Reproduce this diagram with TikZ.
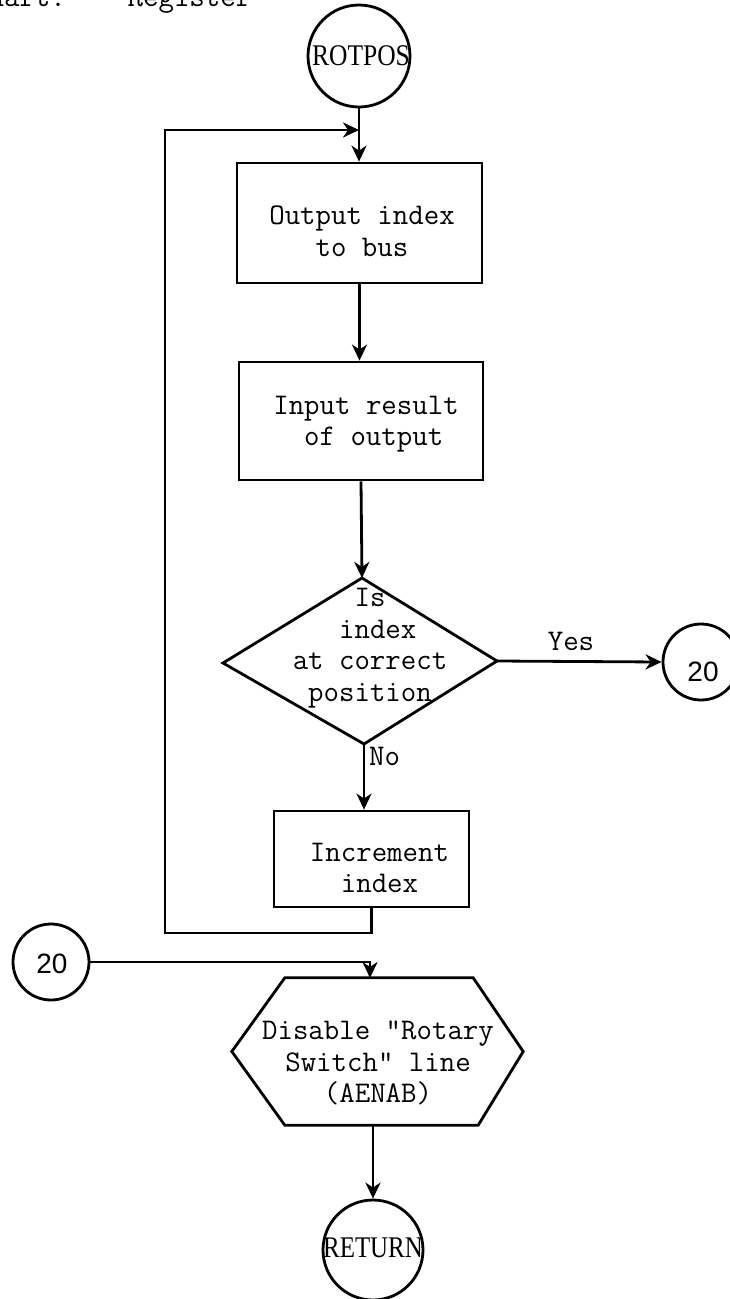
\documentclass[tikz,border=0pt]{standalone}
\usepackage{fontspec}
\newfontfamily\termfont{Liberation Serif}
\newfontfamily\numfont{Liberation Sans}
\usetikzlibrary{arrows.meta}

\tikzset{
  flow/.style={line width=2.8pt},
  arr/.style={flow,-{Stealth[length=16pt,width=15pt,inset=5pt]}},
  procbox/.style={draw,flow,rectangle,inner sep=0pt},
  txt/.style={font=\fontsize{30}{31.5}\selectfont\ttfamily,align=center,inner sep=0pt},
  termcircle/.style={draw,flow,circle,inner sep=0pt},
  termtxt/.style={font=\fontsize{30}{30}\selectfont\termfont,inner sep=0pt},
  connector/.style={draw,flow,circle,minimum size=76pt,inner sep=0pt},
  contxt/.style={font=\fontsize{28}{28}\selectfont\numfont,inner sep=0pt},
}

\begin{document}
\begin{tikzpicture}[x=1pt,y=-1pt]
  \useasboundingbox (0,0) rectangle (730,1299);
  \clip (0,0) rectangle (730,1299);
  \fill[white] (0,0) rectangle (730,1299);

  % heading line, running off the top edge
  \node[txt,anchor=base west] (head) at (-27,6) {Chart:~~~~Register};

  % entry point
  \node[termcircle,minimum size=102pt] (rot) at (359,56) {};
  \node[termtxt] (rottxt) at (361,56) {\scalebox{0.85}[1]{ROTPOS}};

  % process boxes
  \node[procbox,minimum width=245pt,minimum height=120pt] (b1) at (359.5,223) {};
  \node[txt] (t1) at (362,231) {Output index\\to bus};

  \node[procbox,minimum width=244pt,minimum height=118pt] (b2) at (361,421) {};
  \node[txt] (t2) at (366,424) {Input result\\~of output};

  % decision
  \coordinate (dc) at (360,661);
  \coordinate (dn) at (362,578);
  \coordinate (ds) at (364,744);
  \coordinate (dw) at (223,663);
  \coordinate (de) at (497,661);
  \draw[flow,line join=miter] (dn) -- (de) -- (ds) -- (dw) -- cycle;
  \node[txt] (td) at (370,648) {Is\\~index\\at correct\\position};

  \node[connector] (c20a) at (701,662) {};
  \node[contxt] (c20atxt) at (703,672) {20};

  \node[procbox,minimum width=195pt,minimum height=96pt] (inc) at (371.5,859) {};
  \node[txt] (ti) at (379.5,868) {Increment\\index};

  \node[connector] (c20b) at (51,962) {};
  \node[contxt] (c20btxt) at (52,964) {20};

  % preparation step (hexagon)
  \node[minimum width=291pt,minimum height=147pt,inner sep=0pt] (hex) at (377.5,1051.5) {};
  \draw[flow,line join=miter]
    ([xshift=53pt]hex.north west) -- ([xshift=-50pt]hex.north east)
    -- (hex.east) -- ([xshift=-45pt]hex.south east)
    -- ([xshift=53pt]hex.south west) -- (hex.west) -- cycle;
  \node[txt] (th) at (378,1063) {Disable "Rotary\\Switch" line\\(AENAB)};

  % exit point
  \node[termcircle,minimum size=100pt] (ret) at (373,1250) {};
  \node[termtxt] (rettxt) at (373,1248) {\scalebox{0.83}[1]{RETURN}};

  % loop-back route
  \coordinate (loopbot) at (165,933);
  \coordinate (looptop) at (165,130);
  \coordinate (merge) at (359,130);

  % connectors
  \draw[arr] (rot.south) -- (rot.south |- b1.north);
  \draw[arr] (b1.south) -- (b1.south |- b2.north);
  \draw[arr] (b2.south) -- (dn);
  \draw[arr] (de) -- (c20a.west);
  \node[txt,anchor=base] (yes) at (571,650) {Yes};
  \draw[arr] (ds) -- (ds |- inc.north);
  \node[txt,anchor=base west] (no) at (369,765) {No};
  \draw[arr] (inc.south) |- (loopbot) -- (looptop) -- (merge);
  \draw[arr] (c20b.east) -| (370,978);
  \draw[arr] (ret.north |- hex.south) -- (ret.north);
\end{tikzpicture}
\end{document}
